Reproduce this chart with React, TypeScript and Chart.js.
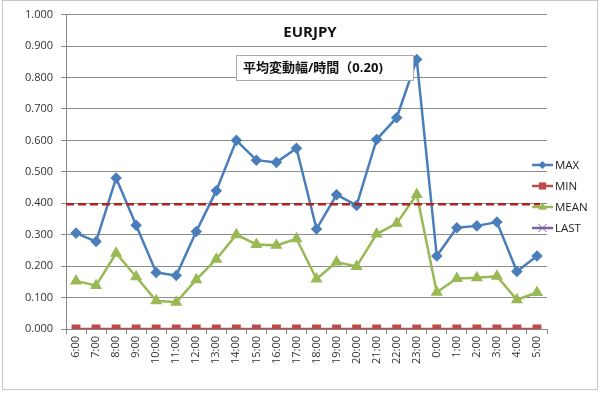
import React, { useEffect, useRef } from "react";
import { Chart, registerables } from "chart.js";

Chart.register(...registerables);

const hours = ["6:00","7:00","8:00","9:00","10:00","11:00","12:00","13:00","14:00","15:00","16:00","17:00","18:00","19:00","20:00","21:00","22:00","23:00","0:00","1:00","2:00","3:00","4:00","5:00"];
const maxValues = [0.305,0.278,0.480,0.330,0.180,0.170,0.310,0.440,0.600,0.537,0.530,0.575,0.318,0.427,0.393,0.603,0.672,0.857,0.232,0.322,0.328,0.340,0.183,0.232];
const minValues = [0,0,0,0,0,0,0,0,0,0,0,0,0,0,0,0,0,0,0,0,0,0,0,0];
const meanValues = [0.153,0.138,0.241,0.166,0.090,0.085,0.157,0.222,0.300,0.269,0.266,0.287,0.159,0.213,0.199,0.302,0.336,0.428,0.117,0.161,0.163,0.168,0.093,0.116];
const lastValues: (number | null)[] = hours.map(() => null);
const refLine = 0.397;
const titleText = "EURJPY";
const subtitleText = "平均変動幅/時間（0.20)";
const yTicks = [0, 0.1, 0.2, 0.3, 0.4, 0.5, 0.6, 0.7, 0.8, 0.9, 1.0];

const FONT = "'Open Sans', 'Noto Sans CJK JP', sans-serif";

export default function App() {
  const ref = useRef<HTMLCanvasElement | null>(null);
  useEffect(() => {
    document.body.style.margin = "0";
    const canvas = ref.current!;
    const decor = {
      id: "decor",
      afterDatasetsDraw(chart: any) {
        const ctx = chart.ctx as CanvasRenderingContext2D;
        const area = chart.chartArea;
        const y = chart.scales.y.getPixelForValue(refLine);
        ctx.save();
        // reference dashed line
        ctx.strokeStyle = "#b22222";
        ctx.lineWidth = 2.5;
        ctx.setLineDash([8, 4]);
        ctx.beginPath();
        ctx.moveTo(area.left, y);
        ctx.lineTo(area.right - 7, y);
        ctx.stroke();
        ctx.setLineDash([]);
        // title
        ctx.fillStyle = "#111";
        ctx.font = `bold 15px ${FONT}`;
        ctx.textAlign = "center";
        ctx.textBaseline = "middle";
        ctx.fillText(titleText, 310, 33);
        // subtitle box
        ctx.fillStyle = "#fff";
        ctx.fillRect(236, 55, 177, 25);
        ctx.strokeStyle = "#aaa";
        ctx.lineWidth = 1;
        ctx.strokeRect(236.5, 55.5, 177, 25);
        ctx.fillStyle = "#111";
        ctx.font = `bold 13px ${FONT}`;
        ctx.textAlign = "left";
        ctx.fillText(subtitleText, 243, 68);
        // legend
        const items = chart.data.datasets;
        const ys = [165, 186, 207, 228];
        items.forEach((ds: any, i: number) => {
          const ly = ys[i];
          ctx.strokeStyle = ds.borderColor;
          ctx.lineWidth = 2.5;
          ctx.beginPath();
          ctx.moveTo(532, ly);
          ctx.lineTo(553, ly);
          ctx.stroke();
          const style = ds.pointStyle;
          const r = ds.pointRadius;
          ctx.fillStyle = ds.pointBackgroundColor;
          ctx.strokeStyle = ds.pointBorderColor;
          ctx.lineWidth = 1;
          const cx = 542.5;
          ctx.beginPath();
          if (style === "rectRot") {
            ctx.moveTo(cx, ly - r); ctx.lineTo(cx + r, ly); ctx.lineTo(cx, ly + r); ctx.lineTo(cx - r, ly); ctx.closePath(); ctx.fill();
          } else if (style === "rect") {
            ctx.fillRect(cx - r * 0.8, ly - r * 0.8, r * 1.6, r * 1.6);
          } else if (style === "triangle") {
            ctx.moveTo(cx, ly - r); ctx.lineTo(cx + r, ly + r * 0.6); ctx.lineTo(cx - r, ly + r * 0.6); ctx.closePath(); ctx.fill();
          } else {
            ctx.moveTo(cx - r, ly - r); ctx.lineTo(cx + r, ly + r); ctx.moveTo(cx + r, ly - r); ctx.lineTo(cx - r, ly + r); ctx.stroke();
          }
          ctx.fillStyle = "#222";
          ctx.font = `11.5px ${FONT}`;
          ctx.textAlign = "left";
          ctx.textBaseline = "middle";
          ctx.fillText(ds.label, 555, ly + 0.5);
        });
        // outer frame
        ctx.strokeStyle = "#c8c8c8";
        ctx.lineWidth = 1;
        ctx.strokeRect(2.5, 0.5, 595, 389);
        ctx.restore();
      },
    };
    const chart = new Chart(canvas, {
      type: "line",
      data: {
        labels: hours,
        datasets: [
          { label: "MAX", data: maxValues, borderColor: "#4a7ebb", backgroundColor: "#4a7ebb", pointBackgroundColor: "#4a7ebb", pointBorderColor: "#4a7ebb", pointStyle: "rectRot", pointRadius: 4, borderWidth: 2.5, tension: 0 },
          { label: "MIN", data: minValues, borderColor: "#be4b48", backgroundColor: "#be4b48", pointBackgroundColor: "#be4b48", pointBorderColor: "#be4b48", pointStyle: "rect", pointRadius: 4.5, borderWidth: 2.5, tension: 0 },
          { label: "MEAN", data: meanValues, borderColor: "#98b954", backgroundColor: "#98b954", pointBackgroundColor: "#98b954", pointBorderColor: "#98b954", pointStyle: "triangle", pointRadius: 4.5, borderWidth: 2.5, tension: 0 },
          { label: "LAST", data: lastValues, borderColor: "#7d60a0", backgroundColor: "#7d60a0", pointBackgroundColor: "#7d60a0", pointBorderColor: "#7d60a0", pointStyle: "crossRot", pointRadius: 4, borderWidth: 2.5, tension: 0 },
        ],
      } as any,
      plugins: [decor],
      options: {
        animation: false,
        responsive: false,
        maintainAspectRatio: false,
        layout: { padding: { left: 0, right: 53, top: 10, bottom: 0 } },
        plugins: { legend: { display: false }, title: { display: false }, tooltip: { enabled: false } },
        scales: {
          x: {
            offset: true,
            afterFit: (s: any) => { s.height = 65; },
            grid: { offset: true, drawOnChartArea: false, drawTicks: true, tickLength: 5, color: "#888" },
            border: { color: "#888", width: 1 },
            ticks: { autoSkip: false, minRotation: 90, maxRotation: 90, color: "#333", font: { family: FONT, size: 11 }, padding: 2 },
          },
          y: {
            min: 0,
            max: 1,
            afterFit: (s: any) => { s.width = 66; },
            afterBuildTicks: (s: any) => { s.ticks = yTicks.map((v) => ({ value: v })); },
            grid: { color: "#8c8c8c", lineWidth: 1, tickLength: 5 },
            border: { color: "#888", width: 1 },
            ticks: { color: "#333", font: { family: FONT, size: 11 }, padding: 8, callback: (v: any) => Number(v).toFixed(3) },
          },
        },
      },
    });
    return () => chart.destroy();
  }, []);
  return (
    <div style={{ position: "relative", width: 600, height: 394, background: "#fff" }}>
      <canvas ref={ref} width={600} height={394} style={{ width: 600, height: 394, display: "block" }} />
    </div>
  );
}
